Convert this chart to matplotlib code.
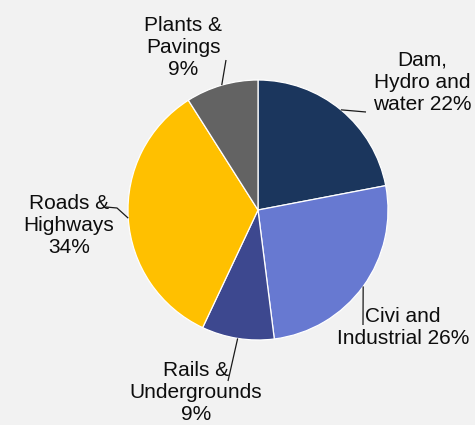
import numpy as np
import matplotlib.pyplot as plt

# Share of work by sector, clockwise from 12 o'clock
sectors = ['Dam,\nHydro and\nwater', 'Civi and\nIndustrial', 'Rails &\nUndergrounds',
           'Roads &\nHighways', 'Plants &\nPavings']
shares = [22, 26, 9, 34, 9]
colors = ['#1b365d', '#6779d1', '#3d488f', '#ffc000', '#636363']

W, H = 475, 425
BG = '#f2f2f2'
CX, CY, R = 258, 210, 130  # pie centre / radius in pixels (y down)

# label placement: text centre and leader path points after the wedge edge (pixels, y down)
label_pos = [(422, 82), (403, 327), (196, 393), (69, 225), (183, 47)]
label_sep = [' ', ' ', '\n', '\n', '\n']
leader_pts = [[(366, 112)], [(363, 325)], [(228, 381)], [(117, 208), (106, 207)], [(226, 60)]]


def px(x, y):
    # pixel coords (y down) -> data coords (y up)
    return x, H - y


plt.rcParams['font.family'] = ['Liberation Sans', 'DejaVu Sans']

fig = plt.figure(figsize=(W / 100, H / 100), dpi=100, facecolor=BG)
ax = fig.add_axes([0, 0, 1, 1])
ax.set_facecolor(BG)
ax.axis('off')

wedges, _ = ax.pie(shares, colors=colors, startangle=90, counterclock=False,
                   center=px(CX, CY), radius=R,
                   wedgeprops=dict(edgecolor='white', linewidth=0.9))
ax.set_xlim(0, W)
ax.set_ylim(0, H)
ax.set_aspect('equal')

for w, name, val, sep, (tx, ty), pts in zip(wedges, sectors, shares, label_sep,
                                            label_pos, leader_pts):
    mid = np.deg2rad((w.theta1 + w.theta2) / 2)
    sx = CX + R * np.cos(mid)
    sy = CY - R * np.sin(mid)
    path = [(sx, sy)] + pts
    ax.plot([p[0] for p in path], [H - p[1] for p in path],
            color='#1a1a1a', lw=0.9, solid_capstyle='butt')
    ax.text(*px(tx, ty), f'{name}{sep}{val}%', ha='center', va='center',
            multialignment='center', fontsize=15, color='#0d0d0d',
            linespacing=1.2)

fig.savefig('out.png', dpi=100, facecolor=BG)
